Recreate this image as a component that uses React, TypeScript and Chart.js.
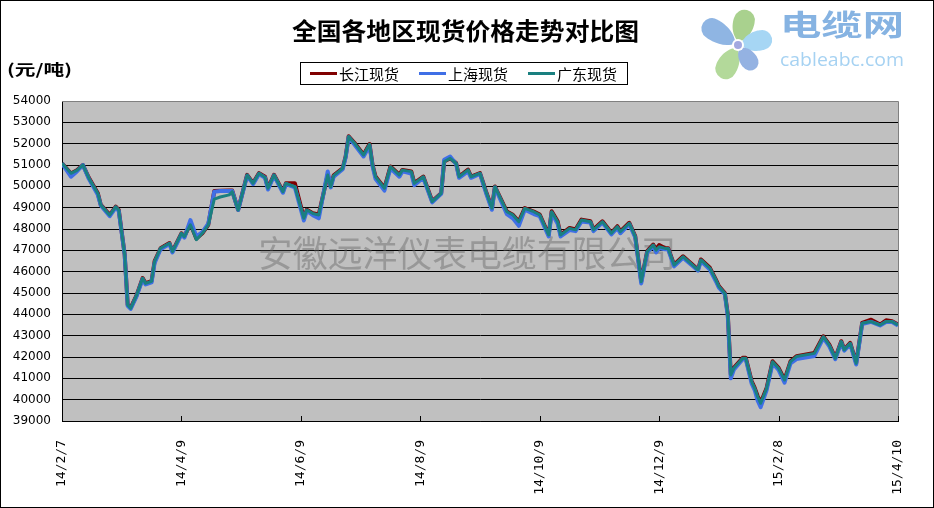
import React, { useEffect, useRef } from 'react';
import { Chart, registerables } from 'chart.js';

Chart.register(...registerables);

const titleText = '全国各地区现货价格走势对比图';
const unitText = '(元/吨)';
const watermarkText = '安徽远洋仪表电缆有限公司';
const logoCn = '电缆网';
const logoEn = 'cableabc.com';
const seriesNames = ['长江现货', '上海现货', '广东现货'];
const seriesColors = ['#800000', '#3f6fe6', '#1a8080'];
const seriesWidths = [4, 4, 3];
const dateLabels = ['14/2/7', '14/4/9', '14/6/9', '14/8/9', '14/10/9', '14/12/9', '15/2/8', '15/4/10'];
const labelDays = [0, 40, 80, 120, 160, 200, 240, 280];
const yMin = 39000;
const yMax = 54000;
const yStep = 1000;

const days = [
  0, 3, 5, 7, 9, 12, 13, 16, 18, 19,
  21, 22, 23, 25, 27, 28, 30, 31, 33, 36,
  37, 40, 41, 43, 45, 47, 49, 51, 53, 56,
  57, 59, 62, 64, 66, 68, 69, 71, 74, 75,
  78, 81, 82, 84, 86, 89, 90, 91, 94, 95,
  96, 98, 101, 103, 104, 105, 108, 110, 113, 114,
  117, 118, 121, 124, 127, 128, 130, 132, 133, 136,
  137, 140, 142, 144, 145, 149, 151, 153, 155, 158,
  160, 163, 164, 166, 167, 170, 172, 174, 177, 178,
  181, 184, 186, 187, 190, 192, 194, 196, 198, 199,
  200, 202, 203, 205, 208, 213, 214, 217, 219, 220,
  222, 223, 224, 225, 228, 229, 231, 232, 233, 234,
  236, 238, 240, 242, 244, 246, 252, 255, 257, 259,
  261, 262, 264, 266, 268, 271, 274, 276, 278, 280,
];

const changjiang = [
  51080, 50600, 50750, 51000, 50400, 49680, 49130, 48660, 49050, 48900,
  46800, 44450, 44300, 44900, 45700, 45460, 45560, 46480, 47100, 47340,
  46950, 47800, 47650, 48250, 47550, 47800, 48200, 49780, 49790, 49800,
  49800, 48900, 50540, 50150, 50620, 50450, 49920, 50540, 49760, 50150,
  50150, 48520, 48900, 48740, 48680, 50550, 50000, 50520, 50850, 51400,
  52350, 52030, 51480, 51980, 51010, 50460, 49920, 50930, 50540, 50770,
  50700, 50150, 50460, 49300, 49680, 51170, 51320, 51090, 50460, 50780,
  50460, 50620, 49760, 48980, 49990, 48820, 48670, 48350, 48980, 48820,
  48680, 47730, 48830, 48360, 47730, 48050, 47980, 48440, 48360, 47980,
  48360, 47820, 48130, 47890, 48290, 47660, 45550, 46960, 47270, 47030,
  47250, 47100, 47100, 46330, 46720, 46100, 46570, 46180, 45630, 45320,
  45000, 43990, 41180, 41490, 41960, 41960, 40860, 40550, 40160, 39860,
  40550, 41800, 41490, 40940, 41800, 42040, 42190, 42970, 42580, 41960,
  42740, 42350, 42660, 41720, 43600, 43750, 43520, 43720, 43680, 43520,
];

const shanghai = [
  51080, 50450, 50700, 51000, 50350, 49600, 49100, 48600, 49000, 48850,
  46780, 44400, 44250, 44850, 45650, 45400, 45500, 46400, 47050, 47300,
  46900, 47750, 47600, 48420, 47650, 47850, 48250, 49750, 49780, 49780,
  49780, 48890, 50500, 50100, 50580, 50400, 49850, 50500, 49700, 50100,
  49950, 48400, 48850, 48650, 48500, 50700, 49950, 50450, 50800, 51350,
  52300, 51950, 51400, 51900, 50950, 50350, 49800, 50850, 50450, 50700,
  50600, 50050, 50400, 49250, 49650, 51250, 51400, 51050, 50400, 50700,
  50400, 50580, 49700, 48900, 49950, 48700, 48500, 48150, 48900, 48700,
  48600, 47650, 48750, 48250, 47650, 47950, 47900, 48350, 48300, 47900,
  48300, 47750, 48050, 47800, 48230, 47600, 45450, 46900, 47200, 46900,
  47100, 47050, 47050, 46250, 46650, 46050, 46500, 46100, 45550, 45250,
  44950, 43900, 41000, 41400, 41900, 41900, 40750, 40450, 39950, 39650,
  40450, 41700, 41400, 40800, 41700, 41900, 42050, 42900, 42500, 41900,
  42680, 42300, 42600, 41650, 43550, 43650, 43480, 43640, 43640, 43480,
];

const guangdong = [
  51080, 50610, 50750, 51000, 50380, 49670, 49120, 48650, 49040, 48890,
  46780, 44440, 44280, 44900, 45690, 45450, 45550, 46470, 47100, 47330,
  46940, 47800, 47640, 48200, 47500, 47800, 48190, 49400, 49500, 49600,
  49750, 48890, 50530, 50140, 50610, 50420, 49910, 50530, 49750, 50140,
  49980, 48500, 48890, 48730, 48660, 50530, 49980, 50500, 50840, 51390,
  52330, 52020, 51470, 51970, 51000, 50450, 49910, 50920, 50530, 50760,
  50690, 50140, 50450, 49280, 49670, 51160, 51310, 51080, 50450, 50770,
  50450, 50610, 49750, 48970, 49980, 48810, 48660, 48340, 48970, 48810,
  48660, 47720, 48810, 48340, 47720, 48030, 47960, 48420, 48340, 47960,
  48340, 47800, 48110, 47870, 48270, 47640, 45530, 46940, 47250, 47010,
  47170, 47090, 47090, 46310, 46700, 46080, 46550, 46160, 45610, 45300,
  44980, 43970, 41160, 41470, 41940, 41940, 40840, 40530, 40140, 39830,
  40530, 41780, 41470, 40920, 41780, 42020, 42170, 42950, 42560, 41940,
  42720, 42330, 42640, 41700, 43580, 43660, 43500, 43660, 43660, 43500,
];

const seriesValues = [changjiang, shanghai, guangdong];

const CJK = '"Noto Sans CJK SC", "Noto Sans", sans-serif';

function fitText(ctx: CanvasRenderingContext2D, text: string, left: number, right: number, y: number) {
  const w = ctx.measureText(text).width;
  const s = (right - left) / w;
  ctx.save();
  ctx.translate(left, y);
  ctx.scale(s, 1);
  ctx.textAlign = 'left';
  ctx.fillText(text, 0, 0);
  ctx.restore();
}

function petal(ctx: CanvasRenderingContext2D, cx: number, cy: number, tx: number, ty: number, width: number, color: string) {
  const dx = tx - cx;
  const dy = ty - cy;
  const len = Math.sqrt(dx * dx + dy * dy);
  const ang = Math.atan2(dy, dx);
  ctx.save();
  ctx.translate(cx, cy);
  ctx.rotate(ang);
  ctx.fillStyle = color;
  ctx.beginPath();
  ctx.moveTo(3, 0);
  ctx.bezierCurveTo(len * 0.3, -width * 0.6, len - width * 0.5, -width * 0.5, len - width * 0.5, -width * 0.5);
  ctx.arc(len - width * 0.5, 0, width * 0.5, -Math.PI / 2, Math.PI / 2);
  ctx.bezierCurveTo(len - width * 0.5, width * 0.5, len * 0.3, width * 0.6, 3, 0);
  ctx.closePath();
  ctx.fill();
  ctx.restore();
}

const decorPlugin = {
  id: 'decor',
  beforeDraw(chart: any) {
    const { ctx, chartArea: a } = chart;
    ctx.save();
    ctx.fillStyle = '#ffffff';
    ctx.fillRect(0, 0, chart.width, chart.height);
    ctx.fillStyle = '#c0c0c0';
    ctx.fillRect(a.left, a.top, a.right - a.left, a.bottom - a.top);
    ctx.restore();
  },
  beforeDatasetsDraw(chart: any) {
    const { ctx, chartArea: a } = chart;
    ctx.save();
    ctx.strokeStyle = '#808080';
    ctx.lineWidth = 1;
    ctx.beginPath();
    ctx.moveTo(a.left, a.top + 0.5);
    ctx.lineTo(a.right + 0.5, a.top + 0.5);
    ctx.lineTo(a.right + 0.5, a.bottom);
    ctx.stroke();
    ctx.font = `36px ${CJK}`;
    ctx.fillStyle = 'rgba(105,105,105,0.45)';
    ctx.textBaseline = 'middle';
    fitText(ctx, watermarkText, 258, 676, 253);
    ctx.restore();
  },
  afterDraw(chart: any) {
    const { ctx, chartArea: a } = chart;
    const xs = chart.scales.x;
    ctx.save();
    ctx.strokeStyle = '#000';
    ctx.lineWidth = 1;
    ctx.beginPath();
    labelDays.forEach((d) => {
      const px = Math.round(xs.getPixelForValue(d)) + 0.5;
      ctx.moveTo(px, a.bottom);
      ctx.lineTo(px, a.bottom - 5);
    });
    ctx.stroke();

    ctx.strokeStyle = '#000';
    ctx.strokeRect(0.5, 0.5, chart.width - 1, chart.height - 1);

    ctx.fillStyle = '#000';
    ctx.textBaseline = 'middle';
    ctx.font = `bold 24px ${CJK}`;
    fitText(ctx, titleText, 292, 639, 31);

    ctx.font = `bold 15px ${CJK}`;
    fitText(ctx, unitText, 7, 72, 69);

    ctx.strokeStyle = '#000';
    ctx.lineWidth = 1;
    ctx.strokeRect(300.5, 62.5, 327, 22);
    const itemX = [310, 419, 528];
    ctx.font = `15px ${CJK}`;
    seriesNames.forEach((n, i) => {
      ctx.strokeStyle = seriesColors[i];
      ctx.lineWidth = 3;
      ctx.beginPath();
      ctx.moveTo(itemX[i], 73.5);
      ctx.lineTo(itemX[i] + 27, 73.5);
      ctx.stroke();
      ctx.fillStyle = '#000';
      fitText(ctx, n, itemX[i] + 29, itemX[i] + 89, 74);
    });

    const cx = 738;
    const cy = 45;
    petal(ctx, cx, cy, 747, 10, 21, '#a9d18e');
    petal(ctx, cx, cy, 703, 23, 21, '#8fb5e3');
    petal(ctx, cx, cy, 772, 38, 20, '#a6d6f4');
    petal(ctx, cx, cy, 721, 78, 21, '#b3d99a');
    petal(ctx, cx, cy, 755, 69, 17, '#94b2e2');
    ctx.fillStyle = '#ffffff';
    ctx.beginPath();
    ctx.arc(cx, cy, 6, 0, Math.PI * 2);
    ctx.fill();
    ctx.fillStyle = '#a3a9e0';
    ctx.beginPath();
    ctx.arc(cx, cy, 4, 0, Math.PI * 2);
    ctx.fill();
    ctx.fillStyle = '#86b3e2';
    ctx.font = `bold 29px ${CJK}`;
    fitText(ctx, logoCn, 780, 904, 25);
    ctx.fillStyle = '#a6d2f2';
    ctx.font = `19px "Open Sans", sans-serif`;
    fitText(ctx, logoEn, 780, 904, 61);
    ctx.restore();
  },
};

export default function App() {
  const ref = useRef<HTMLCanvasElement | null>(null);

  useEffect(() => {
    document.body.style.margin = '0';
    const canvas = ref.current;
    if (!canvas) return;
    const order = [3, 2, 1];
    const chart = new Chart(canvas, {
      type: 'line',
      data: {
        datasets: seriesNames.map((name, si) => ({
          label: name,
          data: seriesValues[si].map((v, i) => ({ x: days[i], y: v })),
          borderColor: seriesColors[si],
          backgroundColor: seriesColors[si],
          borderWidth: seriesWidths[si],
          pointRadius: 0,
          tension: 0,
          fill: false,
          borderJoinStyle: 'round' as const,
          order: order[si],
        })),
      },
      options: {
        responsive: false,
        animation: false,
        devicePixelRatio: 1,
        layout: { padding: { top: 101, left: 0, right: 36, bottom: 0 } },
        plugins: {
          legend: { display: false },
          title: { display: false },
          tooltip: { enabled: false },
        },
        scales: {
          x: {
            type: 'linear',
            min: 0,
            max: 280,
            afterBuildTicks: (scale: any) => {
              scale.ticks = labelDays.map((v) => ({ value: v }));
            },
            afterFit: (scale: any) => {
              scale.height = 87;
            },
            grid: { display: false },
            border: { display: true, color: '#000', width: 1 },
            ticks: {
              autoSkip: false,
              minRotation: 90,
              maxRotation: 90,
              padding: 11,
              color: '#000',
              font: { family: '"DejaVu Sans Mono", "Liberation Mono", monospace', size: 13 },
              callback: (value: any) => {
                const k = labelDays.indexOf(Number(value));
                return k >= 0 ? dateLabels[k] : '';
              },
            },
          },
          y: {
            min: yMin,
            max: yMax,
            afterFit: (scale: any) => {
              scale.width = 62;
            },
            grid: {
              color: (c: any) => (c.tick && c.tick.value === yMax ? '#808080' : '#000000'),
              lineWidth: 1,
              drawTicks: false,
            },
            border: { display: true, color: '#000', width: 1 },
            ticks: {
              stepSize: yStep,
              padding: 11,
              color: '#000',
              font: { family: '"DejaVu Sans", sans-serif', size: 12 },
              callback: (value: any) => String(value),
            },
          },
        },
      },
      plugins: [decorPlugin],
    });
    return () => chart.destroy();
  }, []);

  return (
    <div style={{ position: 'absolute', left: 0, top: 0, width: 934, height: 508 }}>
      <canvas ref={ref} width={934} height={508} style={{ display: 'block', width: 934, height: 508 }} />
    </div>
  );
}
